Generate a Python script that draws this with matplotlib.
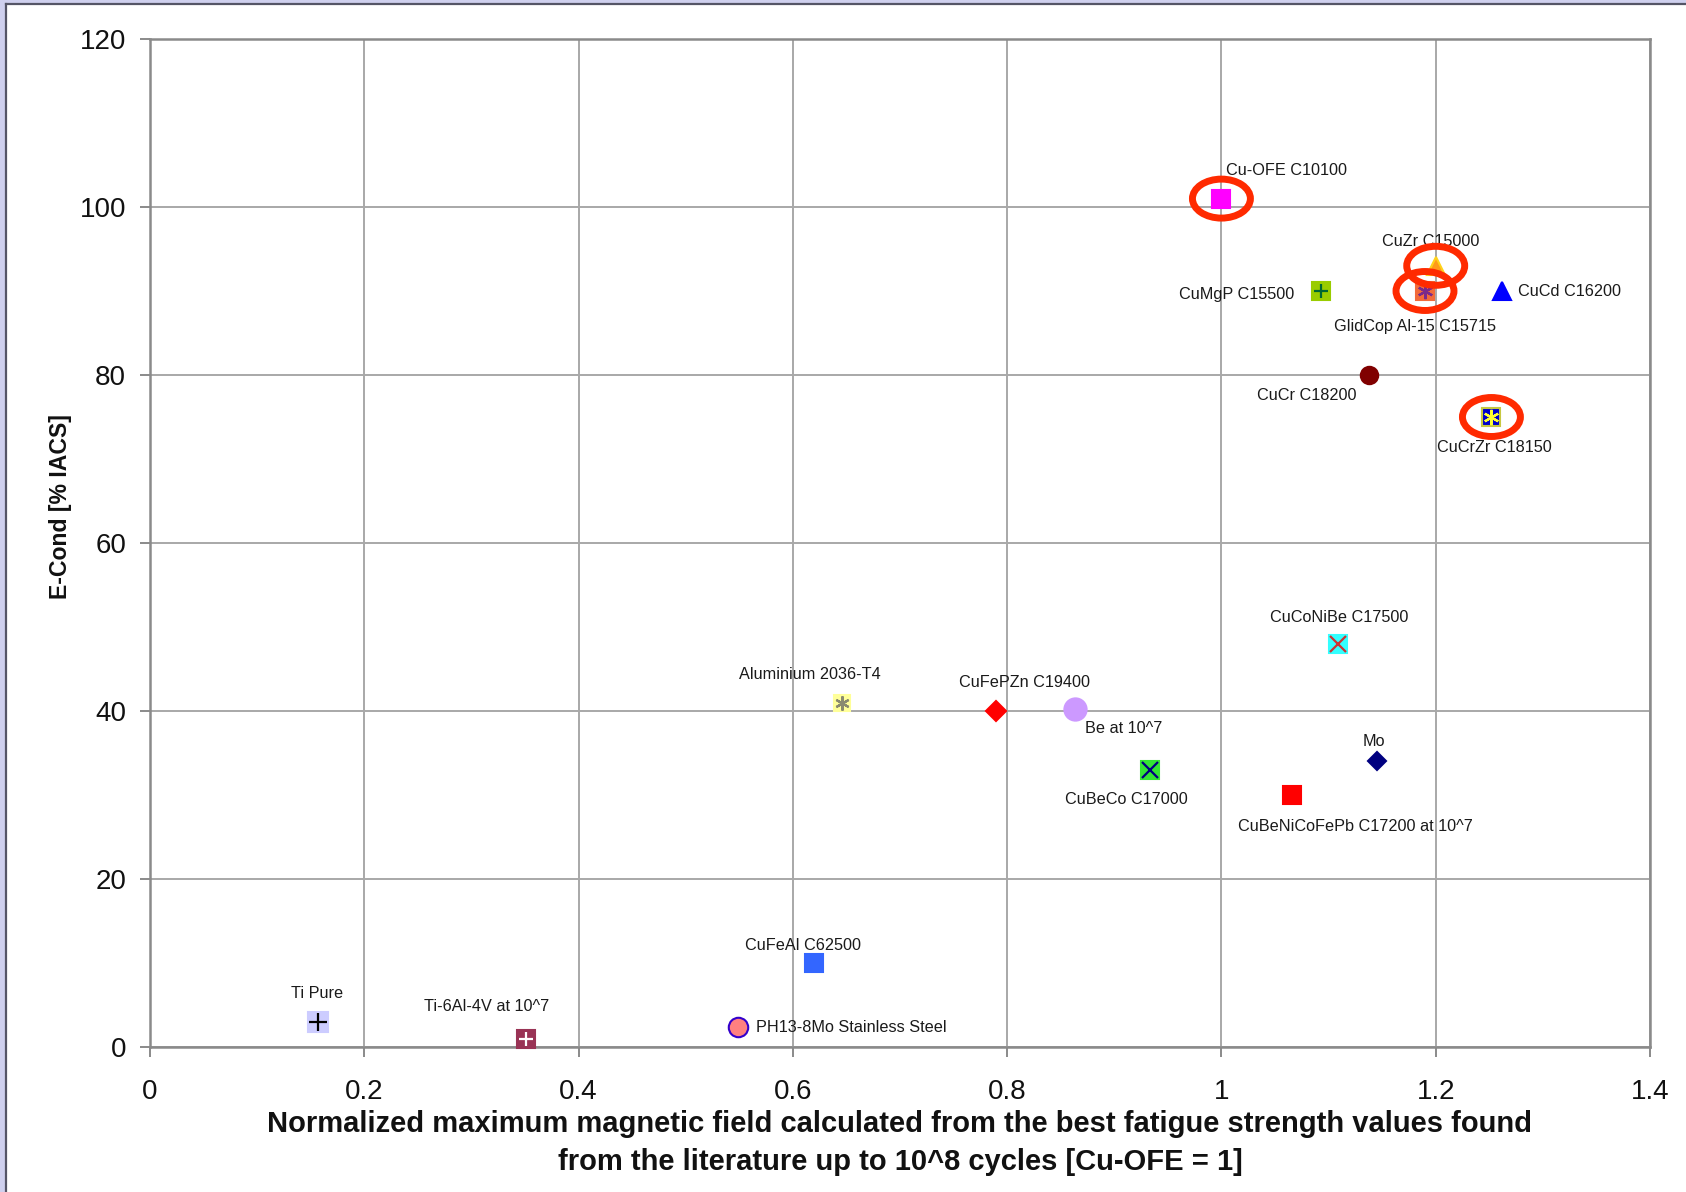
import matplotlib
matplotlib.use("Agg")
import matplotlib.pyplot as plt
from matplotlib.patches import Ellipse, Rectangle
from matplotlib.lines import Line2D

plt.rcParams['font.family'] = ['Liberation Sans', 'DejaVu Sans']

# ---- data -------------------------------------------------------------
materials = [
    "Cu-OFE C10100", "CuZr C15000", "GlidCop Al-15 C15715", "CuMgP C15500",
    "CuCd C16200", "CuCr C18200", "CuCrZr C18150", "Aluminium 2036-T4",
    "CuFePZn C19400", "Be at 10^7", "CuBeCo C17000", "CuCoNiBe C17500",
    "Mo", "CuBeNiCoFePb C17200 at 10^7", "CuFeAl C62500", "Ti Pure",
    "Ti-6Al-4V at 10^7", "PH13-8Mo Stainless Steel",
]
norm_field = [1.0, 1.2, 1.19, 1.093, 1.262, 1.138, 1.252, 0.646,
              0.79, 0.863, 0.933, 1.109, 1.145, 1.066, 0.62, 0.157,
              0.351, 0.549]
e_cond = [101, 93, 90, 90, 90, 80, 75, 41,
          40, 40.2, 33, 48, 34, 30, 10, 3,
          1, 2.4]
highlighted = ["Cu-OFE C10100", "CuZr C15000", "GlidCop Al-15 C15715",
               "CuCrZr C18150"]

x_ticks = [0, 0.2, 0.4, 0.6, 0.8, 1.0, 1.2, 1.4]
x_tick_labels = ["0", "0.2", "0.4", "0.6", "0.8", "1", "1.2", "1.4"]
y_ticks = [0, 20, 40, 60, 80, 100, 120]

# ---- marker styles: base marker, size, face, edge, overlay, overlay colour
styles = {
    "Cu-OFE C10100": ('s', 13, '#ff00ff', '#ff00ff', None, None),
    "CuZr C15000": ('^', 13.5, '#ff9a1a', '#ffd21a', None, None),
    "GlidCop Al-15 C15715": ('s', 13, '#f26a3a', '#f26a3a', (6, 2, 0), '#7a2a8a'),
    "CuMgP C15500": ('s', 12.5, '#99cc00', '#99cc00', '+', '#006633'),
    "CuCd C16200": ('^', 13, '#0000ff', '#0000ff', None, None),
    "CuCr C18200": ('o', 12.5, '#800000', '#800000', None, None),
    "CuCrZr C18150": ('s', 13, '#0000cc', '#c8c840', (6, 2, 0), '#ffff33'),
    "Aluminium 2036-T4": ('s', 12, '#ffff99', '#ffff99', (6, 2, 0), '#8a8a70'),
    "CuFePZn C19400": ('D', 10.5, '#ff0000', '#ff0000', None, None),
    "Be at 10^7": ('o', 16, '#cc99ff', '#cc99ff', None, None),
    "CuBeCo C17000": ('s', 13.5, '#33e633', '#33e633', 'x', '#000080'),
    "CuCoNiBe C17500": ('s', 13, '#33ffff', '#33ffff', 'x', '#cc3333'),
    "Mo": ('D', 9.3, '#000080', '#000080', None, None),
    "CuBeNiCoFePb C17200 at 10^7": ('s', 13, '#ff0000', '#ff0000', None, None),
    "CuFeAl C62500": ('s', 12.5, '#3366ff', '#3366ff', None, None),
    "Ti Pure": ('s', 15, '#ccccff', '#ccccff', '+', '#000000'),
    "Ti-6Al-4V at 10^7": ('s', 12.5, '#993355', '#993355', '+', '#ffffff'),
    "PH13-8Mo Stainless Steel": ('o', 14, '#ff8080', '#3300cc', None, None),
}

# label offsets in points (dx, dy) and horizontal alignment
label_pos = {
    "Cu-OFE C10100": (3.3, 20.5, 'left'),
    "CuZr C15000": (-3.9, 17.4, 'center'),
    "GlidCop Al-15 C15715": (-7.0, -25.3, 'center'),
    "CuMgP C15500": (-19.4, -2.2, 'right'),
    "CuCd C16200": (11.4, -0.1, 'left'),
    "CuCr C18200": (-9.1, -14.7, 'right'),
    "CuCrZr C18150": (2.1, -21.7, 'center'),
    "Aluminium 2036-T4": (-23.5, 20.3, 'center'),
    "CuFePZn C19400": (20.5, 20.3, 'center'),
    "Be at 10^7": (7.5, -14.0, 'left'),
    "CuBeCo C17000": (-17.0, -21.3, 'center'),
    "CuCoNiBe C17500": (0.6, 18.7, 'center'),
    "Mo": (-2.1, 14.1, 'center'),
    "CuBeNiCoFePb C17200 at 10^7": (45.6, -22.9, 'center'),
    "CuFeAl C62500": (-7.8, 12.9, 'center'),
    "Ti Pure": (-0.9, 20.3, 'center'),
    "Ti-6Al-4V at 10^7": (-28.1, 23.1, 'center'),
    "PH13-8Mo Stainless Steel": (12.5, -0.8, 'left'),
}

# ---- figure -----------------------------------------------------------
W, H = 1686, 1192
fig = plt.figure(figsize=(W / 100, H / 100), dpi=100)
fig.patch.set_facecolor('#cfd0ee')

# white slide panel with thin dark border on the top and left
fig.add_artist(Rectangle((6.5 / W, -0.01), 1.0, 1 - 4.5 / H + 0.01,
                         transform=fig.transFigure, facecolor='white',
                         edgecolor='none', zorder=0))
fig.add_artist(Line2D([6 / W, 6 / W], [0, 1 - 4 / H], transform=fig.transFigure,
                      color='#555566', lw=1.6))
fig.add_artist(Line2D([6 / W, 1], [1 - 4 / H, 1 - 4 / H], transform=fig.transFigure,
                      color='#555566', lw=1.6))

ax = fig.add_axes([150 / W, 1 - 1047 / H, 1500 / W, 1008 / H])
ax.set_facecolor('white')
ax.set_xlim(0, 1.4)
ax.set_ylim(0, 120)
ax.set_xticks(x_ticks)
ax.set_xticklabels(x_tick_labels)
ax.set_yticks(y_ticks)
ax.grid(True, color='#a8a8a8', lw=1.4, zorder=0)
ax.set_axisbelow(True)
for sp in ax.spines.values():
    sp.set_color('#8a8a8a')
    sp.set_linewidth(1.8)
ax.tick_params(axis='both', direction='out', length=7.2, width=1.4,
               color='#8a8a8a', labelsize=20, labelcolor='#111111')
ax.tick_params(axis='y', pad=10)
ax.tick_params(axis='x', pad=16)

for name, xv, yv in zip(materials, norm_field, e_cond):
    mk, ms, fc, ec, ov, oc = styles[name]
    ax.plot([xv], [yv], linestyle='none', marker=mk, markersize=ms,
            markerfacecolor=fc, markeredgecolor=ec, markeredgewidth=1.5,
            zorder=3, clip_on=False)
    if ov is not None:
        ax.plot([xv], [yv], linestyle='none', marker=ov, markersize=ms * 0.85,
                markeredgecolor=oc, markerfacecolor=oc, markeredgewidth=1.6,
                zorder=4, clip_on=False)
    dx, dy, ha = label_pos[name]
    ax.annotate(name, (xv, yv), xytext=(dx, dy), textcoords='offset points',
                ha=ha, va='center', fontsize=11.7, color='#1a1a1a', zorder=5)

# red rings around the highlighted alloys
ring_w, ring_h = 0.0541, 4.64
for name in highlighted:
    i = materials.index(name)
    ax.add_patch(Ellipse((norm_field[i], e_cond[i]), ring_w, ring_h,
                         facecolor='none', edgecolor='#ff2a00', lw=5.0,
                         zorder=6, clip_on=False))

# axis titles
fig.text(61 / W, 1 - 507 / H, "E-Cond [% IACS]", rotation=90, ha='center',
         va='center', fontsize=16.6, fontweight='bold', color='#111111')
fig.text(900 / W, 1 - 1123.5 / H,
         "Normalized maximum magnetic field calculated from the best fatigue strength values found",
         ha='center', va='center', fontsize=21, fontweight='bold', color='#111111')
fig.text(900 / W, 1 - 1162 / H,
         "from the literature up to 10^8 cycles [Cu-OFE = 1]",
         ha='center', va='center', fontsize=21, fontweight='bold', color='#111111')

fig.savefig('out.png', dpi=100, facecolor=fig.get_facecolor())
